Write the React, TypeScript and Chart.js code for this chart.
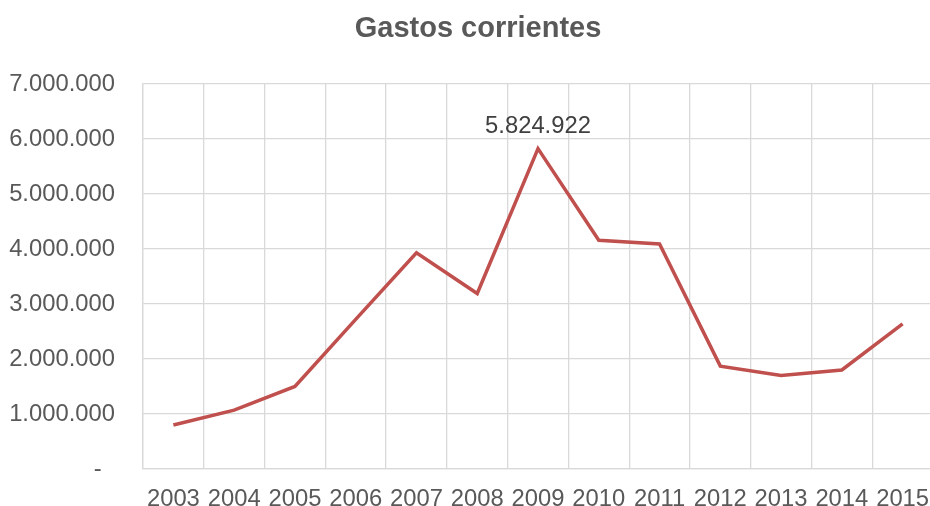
import React, { useEffect, useRef } from "react";
import { Chart, registerables } from "chart.js";

Chart.register(...registerables);

const years = ["2003", "2004", "2005", "2006", "2007", "2008", "2009", "2010", "2011", "2012", "2013", "2014", "2015"];
const gastosCorrientes = [800000, 1070000, 1500000, 2720000, 3930000, 3190000, 5824922, 4160000, 4090000, 1870000, 1700000, 1800000, 2640000];
const yMin = 0;
const yMax = 7000000;
const yStep = 1000000;
const labelledIndex = 6;
const chartTitle = "Gastos corrientes";

const FONT = "'Liberation Sans', Arial, sans-serif";
const TICK_SIZE = 23.8;

function fmt(n: number): string {
  if (n === 0) return "-  ";
  return String(Math.round(n)).replace(/\B(?=(\d{3})+(?!\d))/g, ".");
}

const pointLabelPlugin = {
  id: "pointLabel",
  afterDatasetsDraw(chart: any) {
    const meta = chart.getDatasetMeta(0);
    const el = meta.data[labelledIndex];
    if (!el) return;
    const ctx = chart.ctx;
    ctx.save();
    ctx.font = `${TICK_SIZE}px ${FONT}`;
    ctx.fillStyle = "#404040";
    ctx.textAlign = "center";
    ctx.textBaseline = "alphabetic";
    ctx.fillText(fmt(gastosCorrientes[labelledIndex]), el.x, el.y - 16);
    ctx.restore();
  },
};

const titlePlugin = {
  id: "customTitle",
  afterDraw(chart: any) {
    const ctx = chart.ctx;
    ctx.save();
    ctx.font = `bold 29px ${FONT}`;
    ctx.fillStyle = "#595959";
    ctx.textAlign = "center";
    ctx.textBaseline = "middle";
    ctx.fillText(chartTitle, 478, 29);
    ctx.restore();
  },
};

export default function App() {
  const ref = useRef<HTMLCanvasElement | null>(null);
  useEffect(() => {
    document.body.style.margin = "0";
    document.body.style.overflow = "hidden";
    const canvas = ref.current;
    if (!canvas) return;
    const chart = new Chart(canvas, {
      type: "line",
      data: {
        labels: years,
        datasets: [
          {
            data: gastosCorrientes,
            borderColor: "#c0504d",
            backgroundColor: "#c0504d",
            borderWidth: 3.5,
            pointRadius: 0,
            tension: 0,
          },
        ],
      },
      options: {
        responsive: false,
        animation: false,
        devicePixelRatio: 1,
        layout: { padding: { left: 0, right: 0, top: 84, bottom: 0 } },
        plugins: {
          legend: { display: false },
          tooltip: { enabled: false },
          title: { display: false },
        },
        scales: {
          x: {
            type: "category",
            offset: true,
            grid: { offset: true, color: "#d9d9d9", lineWidth: 1.3, drawTicks: false },
            border: { display: true, color: "#d9d9d9", width: 1.3 },
            ticks: {
              color: "#595959",
              font: { family: FONT, size: TICK_SIZE },
              padding: 16,
              maxRotation: 0,
              autoSkip: false,
            },
            afterFit(scale: any) {
              scale.height = 37;
              scale.paddingLeft = 0;
              scale.paddingRight = 0;
            },
          },
          y: {
            min: yMin,
            max: yMax,
            grid: { color: "#d9d9d9", lineWidth: 1.3, drawTicks: false },
            border: { display: true, color: "#d9d9d9", width: 1.3 },
            ticks: {
              stepSize: yStep,
              color: "#595959",
              font: { family: FONT, size: TICK_SIZE },
              padding: 28,
              callback: (v: any) => fmt(Number(v)),
            },
            afterFit(scale: any) {
              scale.width = 143;
              scale.paddingTop = 0;
              scale.paddingBottom = 0;
            },
          },
        },
      },
      plugins: [pointLabelPlugin, titlePlugin],
    } as any);
    return () => chart.destroy();
  }, []);
  return (
    <div style={{ width: 930, height: 506, background: "#fff", overflow: "hidden" }}>
      <canvas ref={ref} width={933} height={506} style={{ display: "block" }} />
    </div>
  );
}
